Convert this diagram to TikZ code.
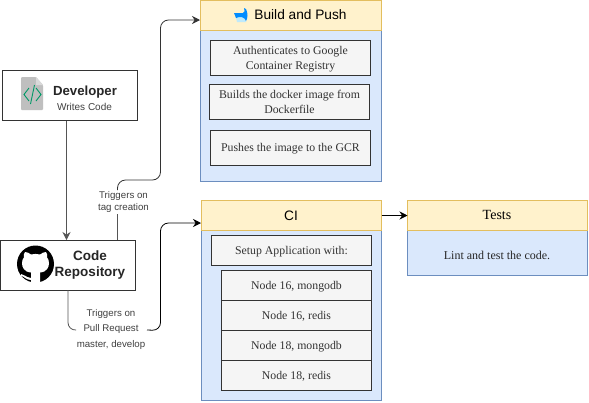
\documentclass[tikz,border=0pt]{standalone}
\usepackage{fontspec}
\setmainfont{Liberation Serif}
\setsansfont{Liberation Sans}
\usetikzlibrary{arrows.meta}
\definecolor{hdrfill}{HTML}{FFF2CC}
\definecolor{hdrline}{HTML}{E3BE5E}
\definecolor{bodyfill}{HTML}{DAE8FC}
\definecolor{bodyline}{HTML}{6C8EBF}
\definecolor{stepfill}{HTML}{F5F5F5}
\definecolor{stepline}{HTML}{333333}
\definecolor{edgegray}{HTML}{555555}
\tikzset{
  x=1pt,y=-1pt,
  boxat/.style n args={4}{minimum width=#3*1pt,minimum height=#4*1pt,at={(#1+#3/2,#2+#4/2)},anchor=center,inner sep=0pt,outer sep=0pt},
  hdr/.style={draw=hdrline,fill=hdrfill,line width=1pt},
  body/.style={draw=bodyline,fill=bodyfill,line width=1pt},
  stepbox/.style={draw=stepline,fill=stepfill,line width=.8pt,text=black!80,font=\fontsize{11.8}{15}\selectfont,align=center},
  oneline/.style={text height=9.5pt,text depth=2pt},
  twolines/.style={text height=24.5pt,text depth=2pt},
  actor/.style={draw=black!80,fill=white,line width=1.3pt},
  lbl/.style={text=black!75,fill=white,inner sep=1pt,align=center},
  conn/.style={line width=.8pt,rounded corners=8pt,-{Stealth[length=8pt,width=8pt]}},
  plain/.style={line width=.8pt,rounded corners=8pt},
}
\begin{document}
\begin{tikzpicture}
\useasboundingbox (0,0) rectangle (589,402);
% Build and Push
\node[body,boxat={200.5}{30}{180.5}{151}] (bpbody) {};
\node[hdr,boxat={200.5}{0.5}{180.5}{30}] (bphead) {};
\node[font=\sffamily\fontsize{13.7}{16}\selectfont,text=black] (bptitle) at (300.5,15) {Build and Push};
\fill[cyan!25!white] (235,14) -- (246,14) -- (246,22) -- (237,22) -- cycle;
\fill[blue!45!cyan] (234,13) -- (243,13) .. controls (245,13) and (245,10) .. (244,8) -- (246,9) .. controls (248,13) and (248,18) .. (246,21) .. controls (245,17) and (240,16) .. (236,18) -- cycle;
\node[stepbox,twolines,boxat={210.5}{40.5}{160}{35}] (auth) {Authenticates to Google\\Container Registry};
\node[stepbox,twolines,boxat={209.5}{84.5}{160}{35}] (builds) {Builds the docker image from\\Dockerfile};
\node[stepbox,oneline,boxat={210.5}{130.5}{160}{35}] (pushes) {Pushes the image to the GCR};
% CI
\node[body,boxat={201.5}{230.5}{180}{170}] (cibody) {};
\node[hdr,boxat={201.5}{200.5}{180}{30}] (cihead) {};
\node[font=\sffamily\fontsize{13.7}{16}\selectfont,text=black] (cititle) at (291,215.5) {CI};
\node[stepbox,oneline,boxat={211.5}{235.5}{160}{30}] (setup) {Setup Application with:};
\node[stepbox,oneline,boxat={221.5}{270.5}{150}{30}] (n1) {Node 16, mongodb};
\node[stepbox,oneline,boxat={221.5}{300.5}{150}{30}] (n2) {Node 16, redis};
\node[stepbox,oneline,boxat={221.5}{330.5}{150}{30}] (n3) {Node 18, mongodb};
\node[stepbox,oneline,boxat={221.5}{360.5}{150}{30}] (n4) {Node 18, redis};
% Tests
\node[body,boxat={407.5}{230.5}{180}{45}] (tbody) {};
\node[hdr,boxat={407.5}{200.5}{180}{30}] (thead) {};
\node[font=\fontsize{14}{16}\selectfont,text=black] (ttitle) at (497,214.5) {Tests};
\node[font=\fontsize{12}{14}\selectfont,text=black!85] (tlint) at (497,255.5) {Lint and test the code.};
% Developer
\node[actor,boxat={2.5}{70.5}{135}{50}] (dev) {};
\fill[rounded corners=1pt,gray!50!white] (21,77) -- (36,77) -- (43,85) -- (43,110) -- (21,110) -- cycle;
\fill[gray!30!white] (36,77) -- (43,85) -- (36,85) -- cycle;
\draw[teal!80!green,line width=.9pt] (29,88) -- (24,94.5) -- (29,101) (36,88) -- (41,94.5) -- (36,101) (34.5,85) -- (30.5,104);
\node[font=\sffamily\bfseries\fontsize{13.2}{15}\selectfont,text=black!85] (devname) at (85,92) {Developer};
\node[font=\sffamily\fontsize{10}{12}\selectfont,text=black!75] (devsub) at (84.5,107) {Writes Code};
% Code repository
\node[actor,boxat={0.5}{240.5}{135}{50}] (repo) {};
\begin{scope}
\clip (0,242) rectangle (60,283);
\fill (35.5,264) circle (18.5);
\end{scope}
\fill[white] (31,283) -- (31,272.5) .. controls (24,272) and (22,267) .. (22,263) .. controls (22,260) and (23,258.5) .. (24,257.5) .. controls (23.5,255) and (24,253) .. (25,252) .. controls (27,252) and (29,253) .. (31,254.5) .. controls (34,253.7) and (37,253.7) .. (40,254.5) .. controls (42,253) and (44,252) .. (46,252) .. controls (47,253) and (47.5,255) .. (47,257.5) .. controls (48,258.5) and (49,260) .. (49,263) .. controls (49,267) and (47,272) .. (40,272.5) -- (40,283) -- cycle;
\fill[white] (21,274) .. controls (24,274) and (25,277) .. (31,278) -- (31,280) .. controls (26,280) and (24,276) .. (21,276) -- cycle;
\node[font=\sffamily\bfseries\fontsize{13.5}{16}\selectfont,text=black!85,align=center] (reponame) at (90,265) {Code\\Repository};
% Labels
\node[lbl,font=\sffamily\fontsize{9.7}{12.5}\selectfont] (tagl) at (123.5,202) {Triggers on\\tag creation};
\node[lbl,font=\sffamily\fontsize{9.7}{15.5}\selectfont] (prl) at (111,329) {Triggers on\\Pull Request\\master, develop};
% Connectors
\coordinate (devdown) at (66.5,121);
\coordinate (repoup) at (66.5,240);
\draw[conn,draw=edgegray] (devdown) -- (repoup);
\coordinate (repotag) at (117.5,240);
\coordinate (bpin) at (200,20);
\draw[plain,draw=edgegray] (repotag) -- (tagl.south -| repotag);
\draw[conn,draw=black!80] (tagl.north -| repotag) -- (117.5,180) -- (160.5,180) -- (160.5,20) -- (bpin);
\coordinate (repopr) at (68,290);
\coordinate (ciin) at (201,223);
\coordinate (prleft) at (76,330);
\coordinate (prright) at (147,330);
\draw[plain,draw=edgegray] (repopr) -- (68,330.5) -- (prleft);
\draw[conn,draw=black] (prright) -- (160.5,330.5) -- (160.5,223) -- (ciin);
\draw[conn,draw=black] (cihead.east) -- (thead.west);
\end{tikzpicture}
\end{document}
